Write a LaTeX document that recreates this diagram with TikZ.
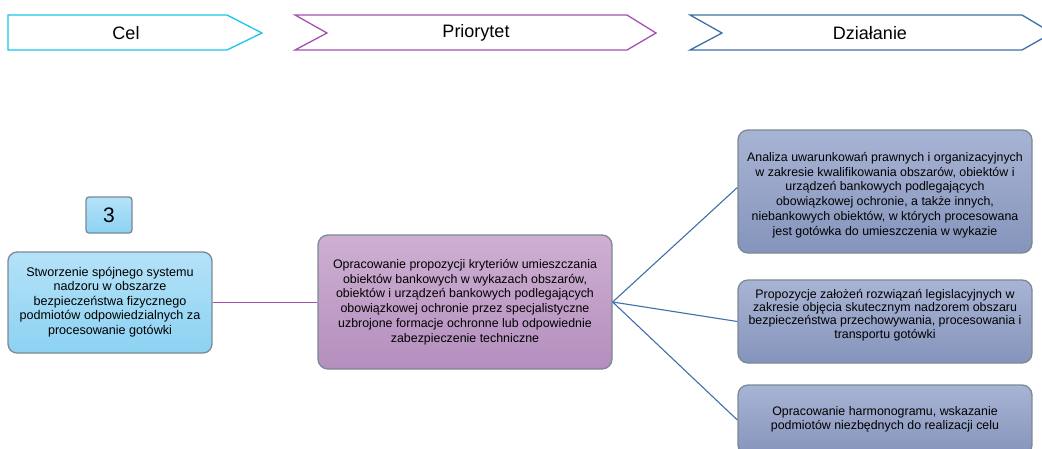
\documentclass[tikz,border=0pt]{standalone}
\usepackage{fontspec}
\setmainfont{Liberation Sans}
\begin{document}
\begin{tikzpicture}[x=1pt,y=-1pt,
  txt/.style={font=\fontsize{12.4}{14.7}\selectfont, align=center, inner sep=0pt},
  hdr/.style={font=\fontsize{18}{20}\selectfont}
]
\definecolor{cellTop}{HTML}{B4E2F8}
\definecolor{cellBot}{HTML}{8CD2F2}
\definecolor{prioTop}{HTML}{CEB0D2}
\definecolor{prioBot}{HTML}{B48EBE}
\definecolor{dzTop}{HTML}{A8B4D4}
\definecolor{dzBot}{HTML}{8594BC}
\definecolor{celC}{HTML}{1CC4EE}
\definecolor{prioC}{HTML}{A452B0}
\definecolor{dzC}{HTML}{3E70AA}
\definecolor{borderC}{HTML}{7C8894}
\tikzset{
  rbox/.style={draw=borderC, line width=1.3pt, rounded corners=10pt, inner sep=0pt}
}
\useasboundingbox (0,0) rectangle (1042,448);
\clip (0,0) rectangle (1042,448);
\fill[white] (0,0) rectangle (1042,448);

% header chevrons
\draw[celC, line width=1.3pt, line join=miter] (8,15) -- (227,15) -- (262,33) -- (227,50) -- (8,50) -- cycle;
\node[hdr] (hcel) at (126,33) {Cel};
\draw[prioC, line width=1.3pt] (295,15) -- (627,15) -- (656,33) -- (627,50) -- (295,50) -- (327,33) -- cycle;
\node[hdr] (hprio) at (476,33) {Priorytet};
\draw[dzC, line width=1.3pt] (690,15) -- (1022,15) -- (1052,33) -- (1022,50) -- (690,50) -- (722,33) -- cycle;
\node[hdr] (hdz) at (870,33) {Działanie};

% number box
\node[rbox, rounded corners=3pt, top color=cellTop, bottom color=cellBot,
  minimum width=46pt, minimum height=36pt, font=\fontsize{21}{24}\selectfont] (num) at (109,215) {3};

% left box
\node[rbox, rounded corners=9pt, top color=cellTop, bottom color=cellBot,
  minimum width=204pt, minimum height=101pt] (cel) at (110,302.5) {};
\node[txt, font=\fontsize{12.6}{14.4}\selectfont] (celt) at (110,302) {Stworzenie spójnego systemu\\nadzoru w obszarze\\bezpieczeństwa fizycznego\\podmiotów odpowiedzialnych za\\procesowanie gotówki};

% middle box
\node[rbox, top color=prioTop, bottom color=prioBot,
  minimum width=294pt, minimum height=134pt] (prio) at (465,302) {};
\node[txt] (priot) at (465,302) {Opracowanie propozycji kryteriów umieszczania\\obiektów bankowych w wykazach obszarów,\\obiektów i urządzeń bankowych podlegających\\obowiązkowej ochronie przez specjalistyczne\\uzbrojone formacje ochronne lub odpowiednie\\zabezpieczenie techniczne};

% right boxes
\node[rbox, top color=dzTop, bottom color=dzBot,
  minimum width=294pt, minimum height=123pt] (d1) at (885,191.5) {};
\node[txt] (d1t) at (885,195) {Analiza uwarunkowań prawnych i organizacyjnych\\w zakresie kwalifikowania obszarów, obiektów i\\urządzeń bankowych podlegających\\obowiązkowej ochronie, a także innych,\\niebankowych obiektów, w których procesowana\\jest gotówka do umieszczenia w wykazie};

\node[rbox, top color=dzTop, bottom color=dzBot,
  minimum width=294pt, minimum height=83pt] (d2) at (885,321.5) {};
\node[txt, font=\fontsize{12.4}{13.4}\selectfont] (d2t) at (885,315) {Propozycje założeń rozwiązań legislacyjnych w\\zakresie objęcia skutecznym nadzorem obszaru\\bezpieczeństwa przechowywania, procesowania i\\transportu gotówki};

\node[rbox, top color=dzTop, bottom color=dzBot,
  minimum width=294pt, minimum height=70pt] (d3) at (885,420) {};
\node[txt, font=\fontsize{12.4}{13.6}\selectfont] (d3t) at (885,419) {Opracowanie harmonogramu, wskazanie\\podmiotów niezbędnych do realizacji celu};

% connectors
\draw[prioC, line width=1.1pt] (cel.east) -- (cel.east -| prio.west);
\coordinate (hub) at (prio.east);
\draw[dzC, line width=1.1pt] (hub) -- ([yshift=4pt]d1.west);
\draw[dzC, line width=1.1pt] (hub) -- (d2.west);
\draw[dzC, line width=1.1pt] (hub) -- (d3.west);
\end{tikzpicture}
\end{document}
